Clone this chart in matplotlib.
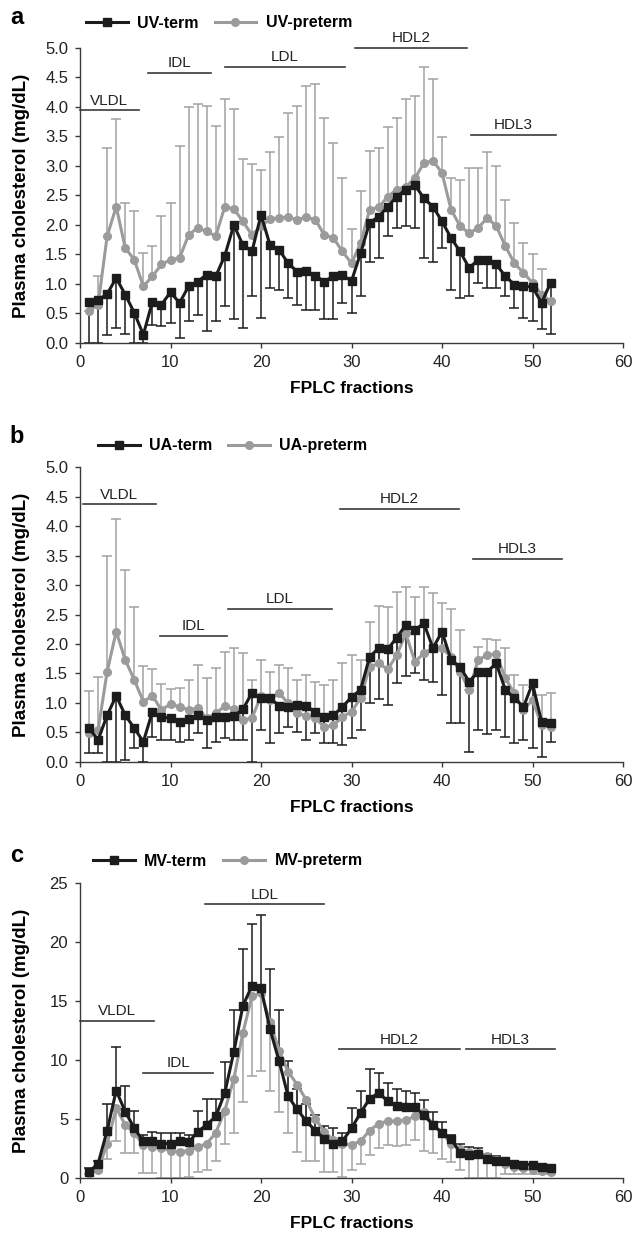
import numpy as np
import matplotlib.pyplot as plt
from matplotlib.lines import Line2D

plt.rcParams['font.family'] = ['Liberation Sans', 'DejaVu Sans']

fractions = list(range(1, 53))

# panel a: umbilical vein
uv_term = [0.69, 0.73, 0.83, 1.10, 0.82, 0.51, 0.14, 0.70, 0.65, 0.86,
           0.68, 0.96, 1.04, 1.16, 1.13, 1.48, 2.00, 1.66, 1.55, 2.17,
           1.66, 1.58, 1.35, 1.21, 1.22, 1.14, 1.04, 1.13, 1.15, 1.05,
           1.52, 2.04, 2.14, 2.31, 2.48, 2.60, 2.68, 2.45, 2.31, 2.06,
           1.78, 1.55, 1.27, 1.41, 1.41, 1.33, 1.13, 0.99, 0.96, 0.95,
           0.68, 1.02]
uv_term_low = [0.00, 0.00, 0.14, 0.25, 0.16, 0.00, 0.00, 0.30, 0.28, 0.34,
               0.08, 0.37, 0.48, 0.20, 0.37, 0.62, 0.40, 0.26, 0.79, 0.42,
               0.93, 0.90, 0.76, 0.65, 0.56, 0.56, 0.40, 0.40, 0.67, 0.51,
               0.79, 1.38, 1.44, 1.81, 1.95, 1.98, 1.95, 1.44, 1.38, 1.61,
               0.90, 0.76, 0.79, 1.02, 0.93, 0.93, 0.79, 0.59, 0.42, 0.38,
               0.23, 0.15]
uv_preterm = [0.54, 0.65, 1.81, 2.31, 1.61, 1.41, 0.96, 1.13, 1.33, 1.41,
              1.44, 1.83, 1.95, 1.89, 1.81, 2.31, 2.27, 2.06, 1.83, 1.98,
              2.10, 2.12, 2.13, 2.09, 2.13, 2.09, 1.83, 1.78, 1.55, 1.35,
              1.69, 2.26, 2.30, 2.48, 2.60, 2.65, 2.79, 3.05, 3.09, 2.88,
              2.26, 1.98, 1.86, 1.95, 2.12, 1.98, 1.64, 1.35, 1.19, 1.02,
              0.82, 0.71]
uv_preterm_high = [0.54, 1.13, 3.30, 3.79, 2.37, 2.23, 1.52, 1.64, 2.16, 2.37,
                   3.33, 4.00, 4.05, 4.02, 3.67, 4.14, 3.97, 3.12, 3.04, 2.93,
                   3.24, 3.49, 3.89, 4.02, 4.35, 4.39, 3.81, 3.39, 2.79, 1.93,
                   2.57, 3.26, 3.30, 3.66, 3.81, 4.14, 4.18, 4.68, 4.47, 3.49,
                   2.79, 2.77, 2.96, 2.96, 3.24, 3.00, 2.43, 2.04, 1.70, 1.50,
                   1.25, 0.71]

# panel b: umbilical artery
ua_term = [0.57, 0.37, 0.79, 1.12, 0.79, 0.57, 0.34, 0.85, 0.76, 0.74,
           0.68, 0.72, 0.79, 0.71, 0.76, 0.76, 0.78, 0.89, 1.17, 1.08,
           1.08, 0.95, 0.93, 0.96, 0.94, 0.85, 0.76, 0.79, 0.93, 1.10,
           1.22, 1.78, 1.93, 1.91, 2.11, 2.32, 2.24, 2.35, 1.93, 2.21,
           1.73, 1.61, 1.36, 1.53, 1.53, 1.67, 1.22, 1.08, 0.93, 1.33,
           0.68, 0.66]
ua_term_low = [0.15, 0.15, 0.00, 0.00, 0.03, 0.23, 0.00, 0.42, 0.37, 0.37,
               0.34, 0.37, 0.48, 0.23, 0.34, 0.40, 0.37, 0.37, 0.00, 0.54,
               0.31, 0.48, 0.59, 0.51, 0.37, 0.48, 0.31, 0.31, 0.28, 0.40,
               0.54, 0.99, 1.06, 0.96, 1.33, 1.46, 1.51, 1.39, 1.36, 1.13,
               0.65, 0.66, 0.16, 0.54, 0.47, 0.54, 0.42, 0.31, 0.37, 0.23,
               0.08, 0.34]
ua_preterm = [0.48, 0.54, 1.53, 2.21, 1.73, 1.39, 1.02, 1.12, 0.88, 0.98,
              0.93, 0.88, 0.91, 0.74, 0.82, 0.95, 0.89, 0.71, 0.74, 1.12,
              1.05, 1.17, 0.99, 0.82, 0.78, 0.74, 0.59, 0.62, 0.76, 0.85,
              1.08, 1.61, 1.67, 1.57, 1.81, 2.18, 1.70, 1.84, 1.93, 1.93,
              1.78, 1.53, 1.22, 1.73, 1.81, 1.83, 1.42, 1.16, 0.88, 1.05,
              0.62, 0.59]
ua_preterm_high = [1.20, 1.44, 3.49, 4.13, 3.25, 2.62, 1.63, 1.57, 1.32, 1.23,
                   1.26, 1.39, 1.65, 1.43, 1.59, 1.87, 1.93, 1.84, 1.39, 1.73,
                   1.53, 1.65, 1.60, 1.38, 1.47, 1.35, 1.30, 1.39, 1.68, 1.81,
                   1.72, 2.38, 2.64, 2.62, 2.89, 2.97, 2.80, 2.97, 2.86, 2.70,
                   2.59, 2.24, 1.22, 1.95, 2.08, 2.07, 1.93, 1.47, 1.30, 1.27,
                   1.13, 1.17]

# panel c: maternal vein
mv_term = [0.5, 1.2, 4.0, 7.4, 5.6, 4.2, 3.1, 3.1, 2.9, 2.9,
           3.1, 3.0, 3.9, 4.5, 5.2, 7.2, 10.7, 14.6, 16.3, 16.1,
           12.6, 9.9, 6.9, 5.8, 4.8, 4.0, 3.3, 2.9, 3.1, 4.2,
           5.5, 6.7, 7.2, 6.5, 6.1, 6.0, 6.0, 5.3, 4.5, 3.8,
           3.3, 2.1, 1.9, 2.0, 1.6, 1.4, 1.4, 1.2, 1.1, 1.1,
           0.9, 0.8]
mv_term_high = [0.8, 1.4, 6.3, 11.1, 7.8, 5.7, 3.6, 3.9, 3.8, 3.8,
                3.8, 3.6, 5.7, 6.7, 6.7, 9.8, 14.2, 19.4, 21.5, 22.3,
                17.7, 14.2, 9.9, 7.5, 6.3, 5.3, 4.4, 4.2, 3.8, 5.9,
                7.4, 9.2, 8.9, 8.0, 7.5, 7.4, 7.2, 6.6, 5.6, 4.7,
                3.6, 2.9, 2.6, 2.5, 2.0, 1.8, 1.6, 1.4, 1.3, 1.2,
                1.1, 1.0]
mv_preterm = [0.4, 0.65, 2.9, 5.9, 4.5, 3.8, 2.8, 2.6, 2.5, 2.3,
              2.2, 2.3, 2.6, 2.9, 3.8, 5.7, 8.4, 12.3, 15.4, 15.7,
              13.2, 10.8, 9.0, 7.9, 6.6, 5.0, 3.9, 3.2, 2.9, 2.8,
              3.1, 4.0, 4.6, 4.8, 4.8, 4.9, 5.2, 5.6, 4.5, 3.8,
              2.9, 2.4, 2.2, 2.1, 1.8, 1.5, 1.2, 0.9, 0.8, 0.65,
              0.6, 0.5]
mv_preterm_low = [0.3, 0.5, 1.6, 3.1, 2.1, 2.1, 0.4, 0.4, 0.0, 0.0,
                  0.0, 0.1, 0.5, 0.65, 1.4, 2.9, 3.8, 6.4, 8.6, 9.1,
                  7.4, 5.6, 3.8, 2.2, 1.4, 1.4, 0.5, 0.5, 0.1, 0.65,
                  1.2, 1.9, 2.5, 2.8, 2.7, 2.8, 3.2, 2.3, 2.1, 1.6,
                  1.3, 0.65, 0.0, 0.0, 0.0, 0.0, 0.3, 0.3, 0.3, 0.3,
                  0.3, 0.3]

# lipoprotein regions: (name, start, end, level)
regions_a = [("VLDL", 0, 6.5, 3.94), ("IDL", 7.5, 14.5, 4.58),
             ("LDL", 16.0, 29.3, 4.68), ("HDL2", 30.4, 42.8, 5.0),
             ("HDL3", 43.2, 52.6, 3.52)]
regions_b = [("VLDL", 0.3, 8.4, 4.37), ("IDL", 8.8, 16.2, 2.14),
             ("LDL", 16.4, 27.8, 2.59), ("HDL2", 28.7, 41.9, 4.30),
             ("HDL3", 43.4, 53.3, 3.44)]
regions_c = [("VLDL", 0, 8.2, 13.3), ("IDL", 7.0, 14.7, 8.9),
             ("LDL", 13.8, 27.0, 23.2), ("HDL2", 28.6, 42.0, 10.9),
             ("HDL3", 42.6, 52.5, 10.9)]

BLACK = "#1c1c1c"
GRAY = "#9b9b9b"
AXCOL = "#3a3a3a"

fig = plt.figure(figsize=(6.37, 12.35), dpi=100)


def draw_panel(rect, letter, letter_gap, names, term, term_cap, preterm,
               preterm_cap, regions, ymax, ystep, yfmt, legend_xy):
    ax = fig.add_axes(rect)
    x = np.array(fractions)
    term = np.array(term)
    preterm = np.array(preterm)

    # one-sided error bars
    ax.vlines(x, preterm, preterm_cap, color="#a2a2a2", lw=1.1, zorder=2)
    ax.plot(x, preterm_cap, ls="none", marker="_", ms=7, mew=1.1,
            color="#a2a2a2", zorder=2, clip_on=False)
    ax.vlines(x, term, term_cap, color=BLACK, lw=1.1, zorder=2)
    ax.plot(x, term_cap, ls="none", marker="_", ms=7, mew=1.1,
            color=BLACK, zorder=2, clip_on=False)

    ax.plot(x, preterm, color=GRAY, lw=2.2, marker="o", ms=5.5,
            mec=GRAY, zorder=3, clip_on=False)
    ax.plot(x, term, color=BLACK, lw=2.2, marker="s", ms=5.8,
            mec=BLACK, zorder=4, clip_on=False)

    for name, x0, x1, lev in regions:
        ax.plot([x0, x1], [lev, lev], color=AXCOL, lw=1.2, clip_on=False,
                zorder=1)
        ax.annotate(name, ((x0 + x1) / 2, lev), xytext=(0, 2),
                    textcoords="offset points", ha="center", va="bottom",
                    fontsize=11, color="#222222", annotation_clip=False)

    ax.set_xlim(0, 60)
    ax.set_ylim(0, ymax)
    ax.set_xticks(range(0, 61, 10))
    yt = np.arange(0, ymax + ystep / 2, ystep)
    ax.set_yticks(yt)
    ax.set_yticklabels([yfmt.format(v) for v in yt])
    for s in ["top", "right"]:
        ax.spines[s].set_visible(False)
    for s in ["left", "bottom"]:
        ax.spines[s].set_color(AXCOL)
        ax.spines[s].set_linewidth(1.0)
    ax.tick_params(axis="both", direction="out", length=3.5, width=1.0,
                   color=AXCOL, labelsize=12, labelcolor="#222222")
    ax.tick_params(axis="x", pad=5)
    ax.tick_params(axis="y", pad=5)

    ax.set_xlabel("FPLC fractions", fontsize=12.5, fontweight="bold")
    ax.xaxis.set_label_coords(0.5, -0.156)
    ax.xaxis.label.set_va("center")
    ax.set_ylabel("Plasma cholesterol (mg/dL)", fontsize=13.5,
                  fontweight="bold")
    ax.yaxis.set_label_coords(-0.107, 0.5)
    ax.yaxis.label.set_va("center")

    handles = [Line2D([], [], color=BLACK, lw=2.2, marker="s", ms=5.8),
               Line2D([], [], color=GRAY, lw=2.2, marker="o", ms=5.5)]
    ax.legend(handles, names, ncol=2, frameon=False, loc="center left",
              bbox_to_anchor=legend_xy, bbox_transform=fig.transFigure,
              borderpad=0, borderaxespad=0, handlelength=2.6,
              handletextpad=0.6, columnspacing=1.0,
              prop={"weight": "bold", "size": 11.5})

    fig.text(17 / 637, rect[1] + rect[3] + letter_gap / 1235,
             letter, fontsize=17, fontweight="bold", ha="center",
             va="center")
    return ax


draw_panel([80 / 637, 0.7223, 543 / 637, 0.2389], "a", 30,
           ["UV-term", "UV-preterm"], uv_term, uv_term_low,
           uv_preterm, uv_preterm_high, regions_a, 5.0, 0.5, "{:.1f}",
           (86 / 637, 1 - 23 / 1235))
draw_panel([80 / 637, 0.3832, 543 / 637, 0.2384], "b", 31,
           ["UA-term", "UA-preterm"], ua_term, ua_term_low,
           ua_preterm, ua_preterm_high, regions_b, 5.0, 0.5, "{:.1f}",
           (98 / 637, 1 - 446 / 1235))
draw_panel([80 / 637, 0.0464, 543 / 637, 0.2384], "c", 28,
           ["MV-term", "MV-preterm"], mv_term, mv_term_high,
           mv_preterm, mv_preterm_low, regions_c, 25, 5, "{:.0f}",
           (93 / 637, 1 - 861 / 1235))

fig.savefig("out.png", dpi=100)
